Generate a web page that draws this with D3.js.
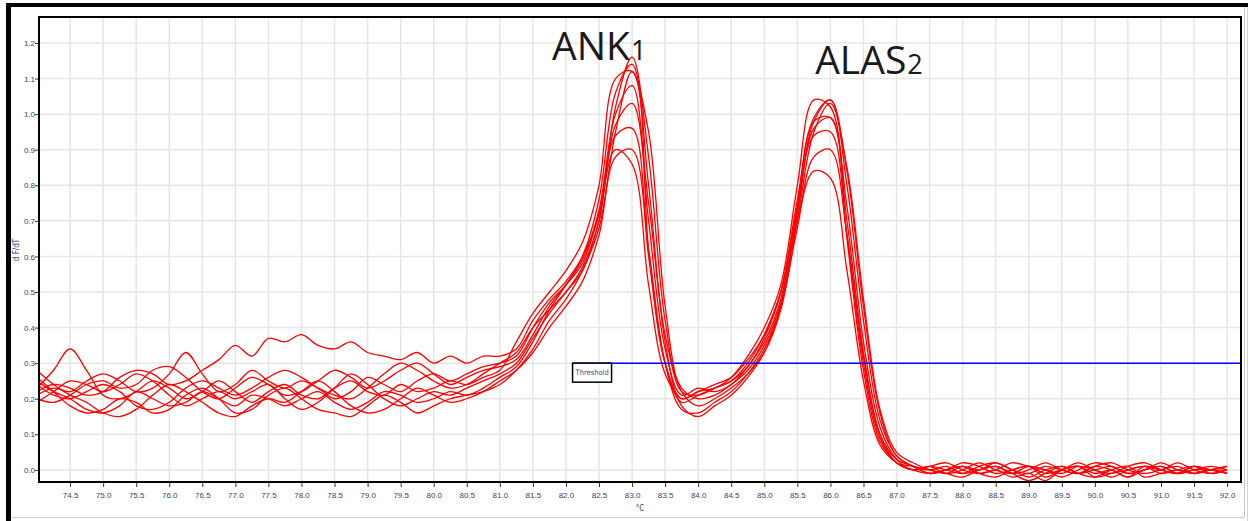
<!DOCTYPE html>
<html>
<head>
<meta charset="utf-8">
<script src="https://cdn.jsdelivr.net/npm/d3@7"></script>
<style>
  body { margin: 0; background: #fff; }
  svg { display: block; }
</style>
</head>
<body>
<div id="vis"></div>
<script>
// melt curves, -dF/dT every 0.25 °C
const temps = [74, 74.25, 74.5, 74.75, 75, 75.25, 75.5, 75.75, 76, 76.25, 76.5, 76.75,
  77, 77.25, 77.5, 77.75, 78, 78.25, 78.5, 78.75, 79, 79.25, 79.5, 79.75,
  80, 80.25, 80.5, 80.75, 81, 81.25, 81.5, 81.75, 82, 82.25, 82.5, 82.75,
  83, 83.25, 83.5, 83.75, 84, 84.25, 84.5, 84.75, 85, 85.25, 85.5, 85.75,
  86, 86.25, 86.5, 86.75, 87, 87.25, 87.5, 87.75, 88, 88.25, 88.5, 88.75,
  89, 89.25, 89.5, 89.75, 90, 90.25, 90.5, 90.75, 91, 91.25, 91.5, 91.75, 92];

const curve1 = [.22,.24,.23,.21,.22,.26,.28,.27,.24,.25, .28,.31,.35,.32,.37,.36,.38,.35,.34,.36, .33,.32,.31,.33,.30,.32,.30,.32,.32,
  .34,.42,.48,.53,.60,.72,1.02,1.16,.88,.42, .22,.21,.23,.25,.29,.37,.50,.76,.99,1.04, .80,.42,.14,.04,
  .01,.00,.01,-.01,.00,.01,-.01,.00,.02,.00, -.01,.01,.00,-.02,.01,.00,-.01,.01,.00,-.01];
const curve2 = [.23,.28,.34,.28,.21,.20,.22,.25,.23,.20, .22,.25,.22,.19,.22,.24,.21,.20,.23,.25, .22,.21,.24,.22,.23,.25,.24,.26,.28,
  .36,.44,.50,.56,.64,.80,1.10,1.12,.62,.30, .20,.22,.23,.26,.32,.40,.52,.80,1.04,1.02, .65,.28,.08,.02,
  .00,.01,-.01,.00,.02,.00,-.01,.01,.00,-.02, .00,.02,.01,-.01,.00,.01,-.01,.00,.01,.00];
const curve3 = [.26,.22,.18,.16,.17,.20,.19,.16,.17,.21, .23,.20,.16,.17,.21,.23,.20,.17,.16,.15, .18,.21,.19,.16,.18,.20,.21,.22,.24,
  .28,.34,.42,.48,.56,.68,.95,1.12,.95,.46, .22,.18,.20,.23,.27,.33,.45,.70,.95,1.03, .85,.48,.17,.05,
  .02,.00,-.01,-.02,.00,.01,-.01,-.03,-.01,.01, -.01,-.02,.00,.01,-.02,-.01,.00,-.01,.00,-.01];
const curve4 = [.20,.19,.21,.24,.25,.23,.24,.28,.29,.26, .22,.20,.23,.26,.24,.21,.22,.25,.28,.26, .23,.25,.28,.30,.27,.24,.26,.28,.29,
  .31,.38,.46,.52,.59,.73,1.00,1.08,.70,.34, .21,.23,.22,.24,.29,.36,.48,.74,.98,.99, .70,.33,.10,.03,
  .01,-.01,.00,.02,.01,-.01,.00,.01,-.02,.00, .02,.00,-.01,.01,.02,.00,-.01,.01,.00,.00];
const curve5 = [.24,.21,.20,.22,.24,.22,.18,.17,.19,.23, .25,.23,.21,.23,.26,.28,.26,.23,.21,.20, .23,.27,.30,.28,.25,.23,.24,.27,.30,
  .33,.40,.45,.50,.57,.70,.97,1.03,.75,.38, .23,.20,.21,.24,.28,.35,.47,.72,.96,.99, .74,.36,.12,.03,
  .00,.01,.02,.00,-.01,.00,.02,.01,.00,-.01, .01,.00,-.02,.00,.01,.00,.02,.00,-.01,.00];
const curve6 = [.19,.22,.25,.24,.22,.24,.27,.25,.21,.18, .20,.22,.20,.22,.24,.20,.17,.19,.23,.27, .24,.20,.18,.20,.22,.21,.23,.25,.27,
  .30,.37,.44,.50,.56,.70,.94,.96,.60,.30, .19,.21,.23,.25,.30,.38,.50,.74,.94,.95, .66,.30,.09,.02,
  .01,.00,-.01,.01,.00,.02,.00,-.01,.01,.00, -.01,.01,.02,.00,-.01,.00,.01,-.01,.00,.01];
const curve7 = [.28,.24,.21,.19,.16,.15,.17,.21,.24,.22, .19,.16,.15,.18,.20,.19,.22,.25,.22,.18, .16,.17,.20,.23,.21,.19,.20,.22,.25,
  .28,.33,.40,.46,.53,.66,.88,.90,.62,.30, .17,.16,.19,.22,.27,.34,.46,.68,.88,.90, .66,.32,.10,.02,
  .00,-.01,.00,.01,-.01,-.02,.00,.01,-.01,.00, .01,-.02,-.01,.00,.01,-.01,.00,.01,-.01,.00];
const curve8 = [.21,.23,.22,.25,.27,.25,.22,.23,.27,.33, .27,.22,.24,.28,.25,.23,.25,.23,.20,.22, .26,.24,.22,.25,.27,.25,.27,.29,.30,
  .32,.40,.47,.52,.58,.72,.90,.86,.52,.27, .20,.22,.24,.26,.31,.38,.50,.70,.84,.82, .56,.25,.07,.02,
  .00,.01,.00,-.01,.01,.02,.00,-.02,.00,.01, -.01,.00,.01,-.01,.00,.02,.00,-.01,.00,.01];
const curve9 = [.25,.22,.20,.17,.16,.18,.22,.20,.18,.19, .22,.20,.18,.21,.20,.18,.20,.22,.19,.17, .19,.22,.21,.19,.20,.22,.21,.23,.26,
  .29,.36,.45,.52,.60,.76,1.06,1.14,.80,.36, .18,.15,.18,.21,.26,.33,.46,.72,.98,1.04, .84,.46,.16,.04,
  .01,-.01,.00,.01,-.01,.00,-.02,-.01,-.03,.00, .01,-.01,.00,-.02,.00,.01,-.01,.00,.00,-.01];

const curves = [curve1, curve2, curve3, curve4, curve5, curve6, curve7, curve8, curve9];

const xTicks = [74.5, 75, 75.5, 76, 76.5, 77, 77.5, 78, 78.5, 79, 79.5, 80, 80.5, 81, 81.5, 82,
  82.5, 83, 83.5, 84, 84.5, 85, 85.5, 86, 86.5, 87, 87.5, 88, 88.5, 89, 89.5, 90, 90.5, 91, 91.5, 92];
const yTicks = [0.0, 0.1, 0.2, 0.3, 0.4, 0.5, 0.6, 0.7, 0.8, 0.9, 1.0, 1.1, 1.2];

const threshold = 0.30;
const thresholdFrom = 82.1;

const peakNames = ["ANK", "ALAS"];
const peakDigits = ["1", "2"];
const peakTemps = [81.79, 85.77];
const peakValues = [1.152, 1.113];

const width = 1251, height = 521;
const svg = d3.select("#vis").append("svg")
  .attr("width", width)
  .attr("height", height)
  .style("font-family", "'Liberation Sans Narrow', 'DejaVu Sans Condensed', sans-serif");

// window frame of the screenshot
svg.append("rect").attr("x", 6).attr("y", 3).attr("width", 1242).attr("height", 4).attr("fill", "#000");
svg.append("rect").attr("x", 6).attr("y", 3).attr("width", 5).attr("height", height).attr("fill", "#000");
svg.append("line").attr("x1", 1244.5).attr("x2", 1244.5).attr("y1", 7).attr("y2", 517).attr("stroke", "#c8c8c8");
svg.append("line").attr("x1", 1247.5).attr("x2", 1247.5).attr("y1", 7).attr("y2", 521).attr("stroke", "#d4d4d4");
svg.append("line").attr("x1", 11).attr("x2", 1244).attr("y1", 517.5).attr("y2", 517.5).attr("stroke", "#d0d0d0");

const x = d3.scaleLinear().domain([74.03, 92.21]).range([39, 1241]);
const y = d3.scaleLinear().domain([-0.034, 1.273]).range([482, 17]);

// grid
svg.append("g").selectAll("line")
  .data(xTicks)
  .join("line")
    .attr("x1", d => x(d)).attr("x2", d => x(d))
    .attr("y1", y.range()[1]).attr("y2", y.range()[0])
    .attr("stroke", "#e6e6e6")
    .attr("stroke-width", 1.5);
svg.append("g").selectAll("line")
  .data(yTicks)
  .join("line")
    .attr("x1", x.range()[0]).attr("x2", x.range()[1])
    .attr("y1", d => y(d)).attr("y2", d => y(d))
    .attr("stroke", "#e6e6e6")
    .attr("stroke-width", 1.5);

svg.append("clipPath").attr("id", "plot")
  .append("rect")
    .attr("x", 39).attr("y", 17)
    .attr("width", 1241 - 39).attr("height", 482 - 17);

const line = d3.line()
  .x((d, i) => x(temps[i]))
  .y(d => y(d))
  .curve(d3.curveCatmullRom.alpha(0.5));

svg.append("g")
  .attr("clip-path", "url(#plot)")
  .selectAll("path")
  .data(curves)
  .join("path")
    .attr("d", line)
    .attr("fill", "none")
    .attr("stroke", "#ff0000")
    .attr("stroke-width", 1.3);

// threshold
svg.append("line")
  .attr("x1", x(thresholdFrom)).attr("x2", x.range()[1])
  .attr("y1", y(threshold)).attr("y2", y(threshold))
  .attr("stroke", "#0000ff")
  .attr("stroke-width", 1.5);
svg.append("rect")
  .attr("x", x(thresholdFrom)).attr("y", y(threshold))
  .attr("width", 39).attr("height", 19)
  .attr("fill", "#fff")
  .attr("stroke", "#000")
  .attr("stroke-width", 1.5);
svg.append("text")
  .attr("x", x(thresholdFrom) + 3).attr("y", y(threshold) + 12)
  .attr("font-size", "7.5px")
  .attr("fill", "#4a5070")
  .text("Threshold");

// axes
const xAxis = svg.append("g")
  .attr("transform", "translate(0,482)")
  .call(d3.axisBottom(x).tickValues(xTicks).tickFormat(d3.format(".1f")).tickSize(5));
const yAxis = svg.append("g")
  .attr("transform", "translate(39,0)")
  .call(d3.axisLeft(y).tickValues(yTicks).tickFormat(d3.format(".1f")).tickSize(4));
[xAxis, yAxis].forEach(g => {
  g.select(".domain").remove();
  g.selectAll(".tick line").attr("stroke", "#333");
  g.selectAll(".tick text").attr("fill", "#3a4470").attr("font-size", "8px");
});
xAxis.selectAll(".tick text").attr("dy", "1em");
yAxis.selectAll(".tick text").attr("x", -4);

svg.append("rect")
  .attr("x", 39).attr("y", 17)
  .attr("width", 1241 - 39).attr("height", 482 - 17)
  .attr("fill", "none")
  .attr("stroke", "#000")
  .attr("stroke-width", 2);

svg.append("text")
  .attr("x", 640).attr("y", 511)
  .attr("text-anchor", "middle")
  .attr("font-size", "8px")
  .attr("fill", "#3a4470")
  .text("°C");

svg.append("text")
  .attr("transform", "translate(19,250) rotate(-90)")
  .attr("text-anchor", "middle")
  .attr("font-size", "8px")
  .attr("fill", "#3a4470")
  .text("d F/dT");

// peak names
const names = svg.append("g").selectAll("text")
  .data(peakNames)
  .join("text")
    .attr("x", (d, i) => x(peakTemps[i]))
    .attr("y", (d, i) => y(peakValues[i]))
    .attr("font-family", "'Open Sans', sans-serif")
    .attr("font-size", "39px")
    .attr("fill", "#1a1a1a")
    .text(d => d);
names.append("tspan")
  .attr("font-size", "27px")
  .attr("dx", 1)
  .text((d, i) => peakDigits[i]);
</script>
</body>
</html>
